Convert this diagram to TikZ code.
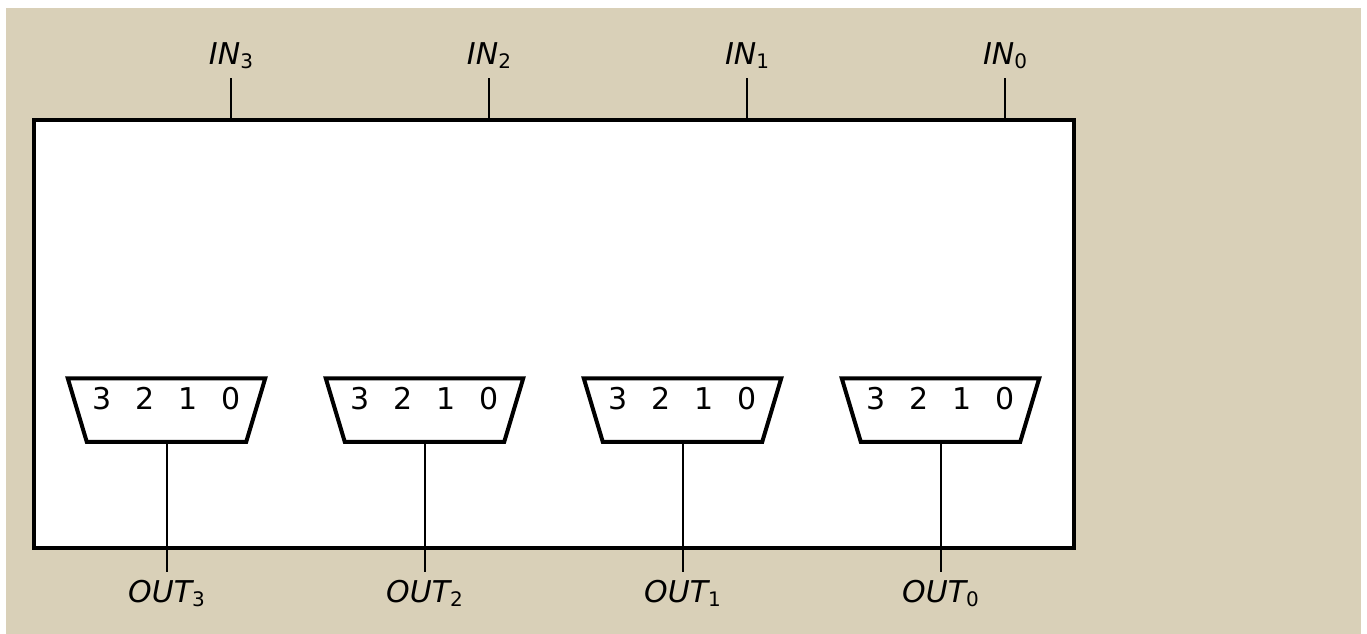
\documentclass[tikz,border=0pt]{standalone}
\usepackage{fontspec}
\setmainfont{DejaVu Sans}
\usepackage{tikz}
\usetikzlibrary{positioning}
\usepackage{xcolor}
\definecolor{sand}{RGB}{217,208,184}
\newcommand{\sigsub}[2]{#1\raisebox{-4pt}{\upshape\fontsize{20}{24}\selectfont #2}}

\begin{document}
\begin{tikzpicture}[x=1pt,y=-1pt]
    \tikzstyle{chip}=[draw, fill=white, line width=4pt, minimum width=1040pt, minimum height=428pt, inner sep=0pt]
    \tikzstyle{muxbox}=[minimum width=197.5pt, minimum height=63.5pt, inner sep=0pt, outer sep=0pt]
    \tikzstyle{muxline}=[draw, fill=white, line width=4pt, line join=miter]
    \tikzstyle{digit}=[font=\fontsize{30}{36}\selectfont, inner sep=0pt, anchor=base]
    \tikzstyle{pin}=[font=\fontsize{30}{36}\selectfont\itshape, inner sep=0pt, anchor=base]
    \tikzstyle{wire}=[line width=2pt]

    \useasboundingbox[fill=white] (0,0) rectangle (1367,634);
    \fill[sand] (6,8) rectangle (1361,634);

    \node[chip] (Chip) at (554,334) {};

    \foreach \n [count=\k from 0] in {3,2,1,0} {
        \node[muxbox] (Mux\n) at (166.5+258*\k,410) {};
        \path[muxline] (Mux\n.north west) -- (Mux\n.north east)
            -- ([xshift=-19pt]Mux\n.south east) -- ([xshift=19pt]Mux\n.south west) -- cycle;
        \foreach \d [count=\j from 0] in {3,2,1,0}
            \node[digit] (Mux\n-\d) at (102+258*\k+43*\j,409) {\d};
        \node[pin] (In\n) at (231+258*\k,65) {\sigsub{IN}{\n}};
        \node[pin] (Out\n) at (166.5+258*\k,602) {\sigsub{OUT}{\n}};
        \coordinate (InEnd\n) at (231+258*\k,78);
        \coordinate (OutEnd\n) at (166.5+258*\k,572);
        \path[draw, wire]
        (InEnd\n) edge node {} (InEnd\n |- Chip.north)
        (Mux\n.south) edge node {} (OutEnd\n);
    }
\end{tikzpicture}
\end{document}
